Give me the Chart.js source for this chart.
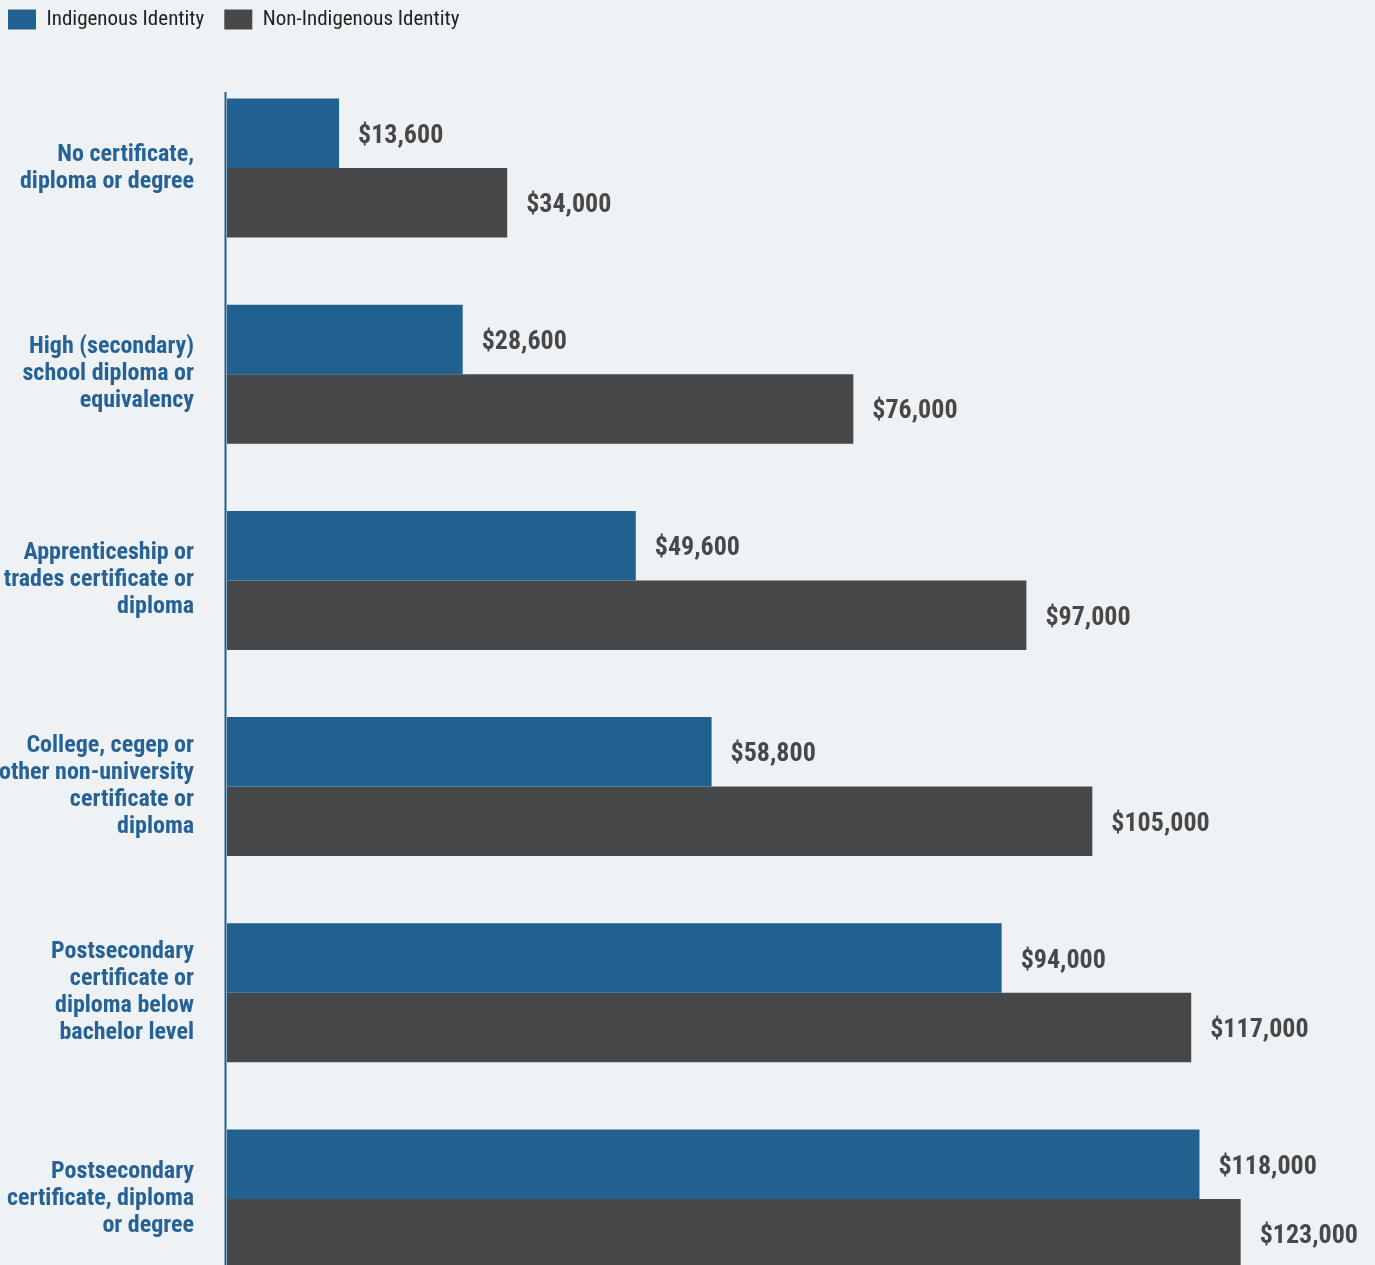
<!DOCTYPE html>
<html>
<head>
<meta charset="utf-8">
<title>Median income by education</title>
<script src="https://cdn.jsdelivr.net/npm/chart.js@4.4.1/dist/chart.umd.min.js"></script>
<style>
    html, body { margin: 0; padding: 0; background: #eef2f4; overflow: hidden; }
    #frame { width: 1375px; height: 1265px; overflow: hidden; }
    canvas { display: block; }
</style>
</head>
<body>
<div id="frame"><canvas id="chart" width="1375" height="1310"></canvas></div>
<script>
const categorias = [
    ["No certificate,", "diploma or degree"],
    ["High (secondary)", "school diploma or", "equivalency"],
    ["Apprenticeship or", "trades certificate or", "diploma"],
    ["College, cegep or", "other non-university", "certificate or", "diploma"],
    ["Postsecondary", "certificate or", "diploma below", "bachelor level"],
    ["Postsecondary", "certificate, diploma", "or degree"]
];
const indigena = [13600, 28600, 49600, 58800, 94000, 118000];
const noIndigena = [34000, 76000, 97000, 105000, 117000, 123000];

const AZUL = "#21618f";
const GRIS = "#47484a";
const FUENTE = "'Roboto Condensed', 'Open Sans', sans-serif";

// leyenda con altura fija para dejar el hueco de arriba
const legendaAlta = {
    id: "legendaAlta",
    beforeInit(chart) {
        const fit = chart.legend.fit;
        chart.legend.fit = function () {
            fit.bind(chart.legend)();
            this.height = 76;
        };
    }
};

// linea del eje, empieza un poco por encima de la primera barra
const ejeLinea = {
    id: "ejeLinea",
    afterDatasetsDraw(chart) {
        const { ctx, chartArea, scales } = chart;
        const x = scales.x.getPixelForValue(0) - 1.5;
        ctx.save();
        ctx.strokeStyle = AZUL;
        ctx.lineWidth = 2;
        ctx.beginPath();
        ctx.moveTo(x, chartArea.top + 27);
        ctx.lineTo(x, chartArea.bottom);
        ctx.stroke();
        ctx.restore();
    }
};

// etiquetas de valor al final de cada barra
const etiquetas = {
    id: "etiquetas",
    afterDatasetsDraw(chart) {
        const ctx = chart.ctx;
        ctx.save();
        ctx.font = "bold 26px " + FUENTE;
        ctx.fillStyle = GRIS;
        ctx.textAlign = "left";
        ctx.textBaseline = "middle";
        chart.data.datasets.forEach((ds, i) => {
            chart.getDatasetMeta(i).data.forEach((bar, j) => {
                ctx.fillText("$" + ds.data[j].toLocaleString("en-US"), bar.x + 19, bar.y + 3);
            });
        });
        ctx.restore();
    }
};

new Chart(document.getElementById("chart"), {
    type: "bar",
    data: {
        labels: categorias,
        datasets: [
            { label: "Indigenous Identity", data: indigena, backgroundColor: AZUL },
            { label: "Non-Indigenous Identity", data: noIndigena, backgroundColor: GRIS }
        ]
    },
    options: {
        indexAxis: "y",
        responsive: false,
        animation: false,
        layout: { padding: { left: -12, right: 0, top: -11, bottom: 8 } },
        datasets: { bar: { categoryPercentage: 0.674, barPercentage: 1 } },
        plugins: {
            legend: {
                position: "top",
                align: "start",
                labels: {
                    boxWidth: 28,
                    boxHeight: 20,
                    padding: 20,
                    color: "#222222",
                    font: { family: FUENTE, size: 21 }
                }
            },
            tooltip: { enabled: false }
        },
        scales: {
            x: { min: 0, max: 139300, display: false },
            y: {
                afterFit(scale) {
                    scale.width = 239;
                    // sin margen extra por las etiquetas de los extremos
                    scale.paddingTop = 0;
                    scale.paddingBottom = 0;
                },
                grid: { display: false, drawTicks: false },
                border: { display: false },
                ticks: {
                    padding: 33,
                    color: "#276296",
                    font: { family: FUENTE, size: 24, weight: "bold", lineHeight: 1.125 }
                }
            }
        }
    },
    plugins: [legendaAlta, ejeLinea, etiquetas]
});
</script>
</body>
</html>
